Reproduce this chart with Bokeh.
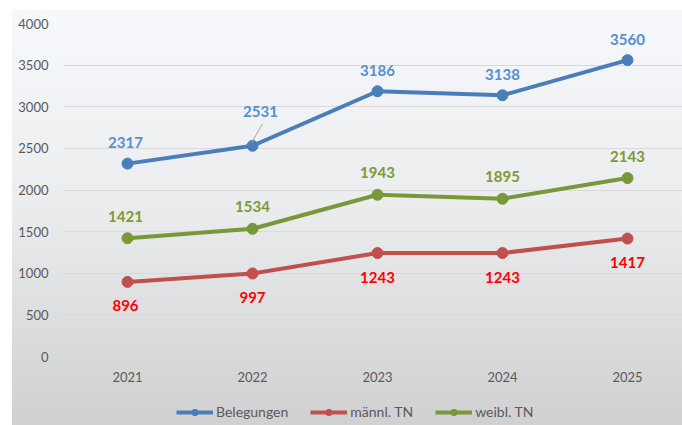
from bokeh.plotting import figure
from bokeh.models import Range1d, FixedTicker, Legend, LegendItem, ColumnDataSource
from bokeh.core.properties import value
from bokeh.embed import file_html
from bokeh.resources import INLINE

years = [2021, 2022, 2023, 2024, 2025]
belegungen = [2317, 2531, 3186, 3138, 3560]
maennl = [896, 997, 1243, 1243, 1417]
weibl = [1421, 1534, 1943, 1895, 2143]
y_ticks = [0, 500, 1000, 1500, 2000, 2500, 3000, 3500, 4000]
year_labels = [str(y) for y in years]
series_names = ["Belegungen", "männl. TN", "weibl. TN"]

FONT = "Lato"
W, H = 682, 425
# frame: top 23px, bottom at figure edge; value 0 sits 69px above the bottom
px_y = 333.0 / 4000.0
px_x = 125.0
p = figure(width=W, height=H, output_backend="svg", toolbar_location=None,
           x_range=Range1d(2020.488, 2025.44), y_range=Range1d(-69 / px_y, 4000),
           min_border_left=63, min_border_right=0, min_border_top=23, min_border_bottom=0)
p.background_fill_alpha = 0
p.border_fill_alpha = 0
p.outline_line_color = None
p.styles = {"background": "linear-gradient(to bottom, #f6f8fb 0%, #ebedef 45%, #d0d0d0 100%) 12px 10px / calc(100% - 12px) calc(100% - 10px) no-repeat, #ffffff"}

p.xgrid.visible = False
p.xaxis.visible = False
p.ygrid.grid_line_color = "#d9d9d9"
p.ygrid.grid_line_width = 1

ax = p.yaxis[0]
ax.axis_line_color = None
ax.major_tick_line_color = None
ax.minor_tick_line_color = None
ax.major_tick_out = 0
ax.major_tick_in = 0
ax.major_label_text_font = FONT
ax.major_label_text_font_size = "13px"
ax.major_label_text_color = "#595959"
ax.ticker = FixedTicker(ticks=y_ticks)
ax.major_label_standoff = 15

# category (year) labels under the zero line
ysrc = ColumnDataSource(dict(x=years, y=[0] * len(years), t=year_labels))
p.text("x", "y", text="t", source=ysrc, y_offset=20, text_align="center",
       text_baseline="middle", text_color="#595959", text_font=value(FONT),
       text_font_size="13px")

line_colors = ["#4a7ebb", "#c0504d", "#78983a"]
label_colors = ["#558ed5", "#ff0000", "#7f9a2f"]
label_dy = [-21, 24, -22]
all_series = [belegungen, maennl, weibl]

items = []
for name, vals, lc, tc, dy in zip(series_names, all_series, line_colors, label_colors, label_dy):
    src = ColumnDataSource(dict(x=years, y=vals, t=[str(v) for v in vals]))
    r1 = p.line("x", "y", source=src, line_color=lc, line_width=4)
    r2 = p.scatter("x", "y", source=src, size=11, fill_color=lc, line_color=lc)
    items.append(LegendItem(label=name, renderers=[r1, r2]))
    dxs = [-2, 0, 0, 0, 0]
    dys = [dy] * 5
    if name == "Belegungen":
        dxs[1] = 8
        dys[1] = -34
    src.data["dx"] = dxs
    src.data["dy"] = dys
    p.text("x", "y", text="t", source=src, x_offset="dx", y_offset="dy",
           text_align="center", text_baseline="middle", text_color=tc,
           text_font=value(FONT), text_font_size="15px", text_font_style="bold")

# leader line for the shifted 2531 label
p.segment(x0=[years[1] + 10 / px_x], y0=[belegungen[1] + 22 / px_y],
          x1=[years[1] - 1 / px_x], y1=[belegungen[1] + 3 / px_y],
          line_color="#a6a6a6", line_width=1)

legend = Legend(items=items, orientation="horizontal", location=(113, 5))
legend.background_fill_alpha = 0
legend.border_line_color = None
legend.padding = 2
legend.margin = 0
legend.spacing = 22
legend.glyph_width = 37
legend.glyph_height = 16
legend.label_height = 16
legend.label_standoff = 3
legend.label_text_font = FONT
legend.label_text_font_size = "14px"
legend.label_text_color = "#595959"
p.add_layout(legend, "center")

open("out.html", "w").write(file_html(p, INLINE))
